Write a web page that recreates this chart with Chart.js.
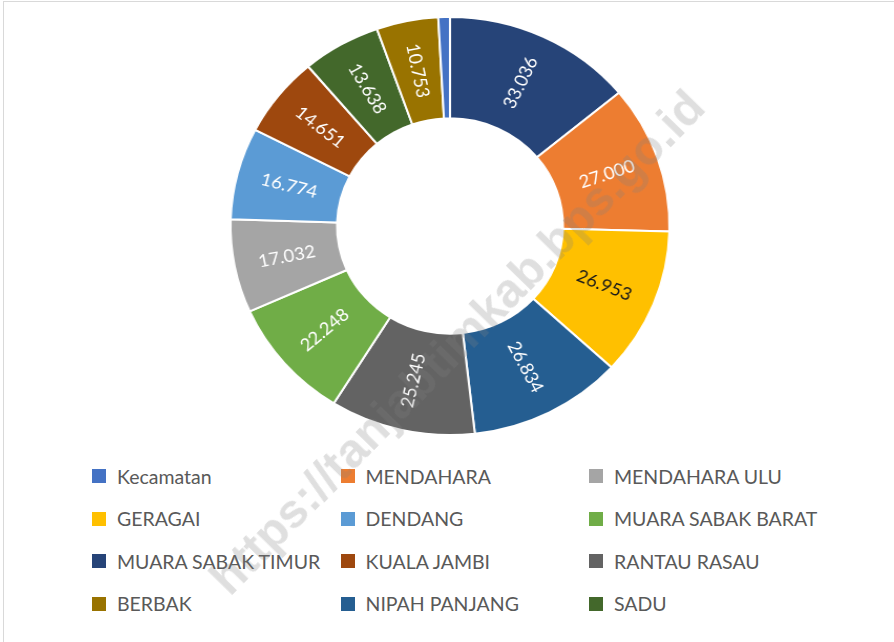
<!DOCTYPE html>
<html>
<head>
<meta charset="utf-8">
<script src="https://cdn.jsdelivr.net/npm/chart.js@4"></script>
<style>
    html, body {
        margin: 0;
        padding: 0;
        background: #ffffff;
    }
    body {
        width: 894px;
        height: 642px;
        position: relative;
        overflow: hidden;
        font-family: Lato, "Open Sans", sans-serif;
    }
    .frame {
        position: absolute;
        left: 3px;
        top: 1px;
        width: 950px;
        height: 700px;
        border: 1px solid #d9d9d9;
    }
    .chart-box {
        position: absolute;
        left: 230px;
        top: 6px;
        width: 440px;
        height: 440px;
        transform: scaleX(1.05);
        transform-origin: 50% 50%;
    }
    .legend {
        position: absolute;
        left: 92px;
        top: 455px;
        display: grid;
        grid-template-columns: 248.5px 248.5px 248.5px;
        grid-auto-rows: 42.5px;
    }
    .legend-item {
        display: flex;
        align-items: center;
        font-size: 19.5px;
        color: #595959;
        white-space: nowrap;
    }
    .legend-swatch {
        width: 14px;
        height: 14px;
        margin-right: 11px;
        flex: none;
    }
    .watermark {
        position: absolute;
        left: 457px;
        top: 342px;
        transform: translate(-50%, -50%) rotate(-45.6deg);
        font-family: "Liberation Sans", Arial, sans-serif;
        font-weight: bold;
        font-size: 48px;
        color: rgba(128, 128, 128, 0.25);
        white-space: nowrap;
        pointer-events: none;
    }
</style>
</head>
<body>
<div class="frame"></div>
<div class="chart-box"><canvas id="chart"></canvas></div>
<div class="legend" id="legend"></div>
<div class="watermark">https://tanjabtimkab.bps.go.id</div>

<script>
// slices in drawing order, clockwise from the top
const labels = [
    "MUARA SABAK TIMUR",
    "MENDAHARA",
    "GERAGAI",
    "NIPAH PANJANG",
    "RANTAU RASAU",
    "MUARA SABAK BARAT",
    "MENDAHARA ULU",
    "DENDANG",
    "KUALA JAMBI",
    "SADU",
    "BERBAK",
    "Kecamatan",
]
const values = [33036, 27000, 26953, 26834, 25245, 22248, 17032, 16774, 14651, 13638, 10753, 2020]
const colors = [
    "#264478",
    "#ED7D31",
    "#FFC000",
    "#255E91",
    "#636363",
    "#70AD47",
    "#A5A5A5",
    "#5B9BD5",
    "#9E480E",
    "#43682B",
    "#997300",
    "#4472C4",
]
const showLabel = [true, true, true, true, true, true, true, true, true, true, true, false]

// legend reads row by row, three per row
const legendOrder = [
    "Kecamatan",
    "MENDAHARA",
    "MENDAHARA ULU",
    "GERAGAI",
    "DENDANG",
    "MUARA SABAK BARAT",
    "MUARA SABAK TIMUR",
    "KUALA JAMBI",
    "RANTAU RASAU",
    "BERBAK",
    "NIPAH PANJANG",
    "SADU",
]

function formatNumber(value) {
    return String(value).replace(/\B(?=(\d{3})+(?!\d))/g, ".")
}

const legendElement = document.getElementById("legend")
legendOrder.forEach((name) => {
    const item = document.createElement("div")
    item.className = "legend-item"
    const swatch = document.createElement("span")
    swatch.className = "legend-swatch"
    swatch.style.background = colors[labels.indexOf(name)]
    const text = document.createElement("span")
    text.textContent = name
    item.appendChild(swatch)
    item.appendChild(text)
    legendElement.appendChild(item)
})

const radialLabels = {
    id: "radialLabels",
    afterDatasetsDraw(chart) {
        const ctx = chart.ctx
        const meta = chart.getDatasetMeta(0)
        ctx.save()
        ctx.font = "17.5px Lato, 'Open Sans', sans-serif"
        ctx.textAlign = "center"
        ctx.textBaseline = "middle"
        meta.data.forEach((arc, i) => {
            if (!showLabel[i]) return
            const props = arc.getProps(["x", "y", "startAngle", "endAngle", "innerRadius", "outerRadius"])
            const mid = (props.startAngle + props.endAngle) / 2
            const r = (props.innerRadius + props.outerRadius) / 2
            const x = props.x + Math.cos(mid) * r
            const y = props.y + Math.sin(mid) * r
            let rot = mid
            if (Math.cos(rot) < 0) rot += Math.PI
            ctx.translate(x, y)
            ctx.rotate(rot)
            ctx.fillStyle = colors[i] === "#FFC000" ? "#1a1a1a" : "#ffffff"
            ctx.fillText(formatNumber(values[i]), 0, 0)
            ctx.setTransform(1, 0, 0, 1, 0, 0)
        })
        ctx.restore()
    },
}

new Chart(document.getElementById("chart"), {
    type: "doughnut",
    data: {
        labels: labels,
        datasets: [
            {
                data: values,
                backgroundColor: colors,
                borderColor: "#ffffff",
                borderWidth: 2,
            },
        ],
    },
    options: {
        responsive: true,
        maintainAspectRatio: false,
        animation: false,
        radius: 209,
        cutout: "51.5%",
        plugins: {
            legend: {
                display: false,
            },
            tooltip: {
                enabled: false,
            },
        },
    },
    plugins: [radialLabels],
})
</script>
</body>
</html>
